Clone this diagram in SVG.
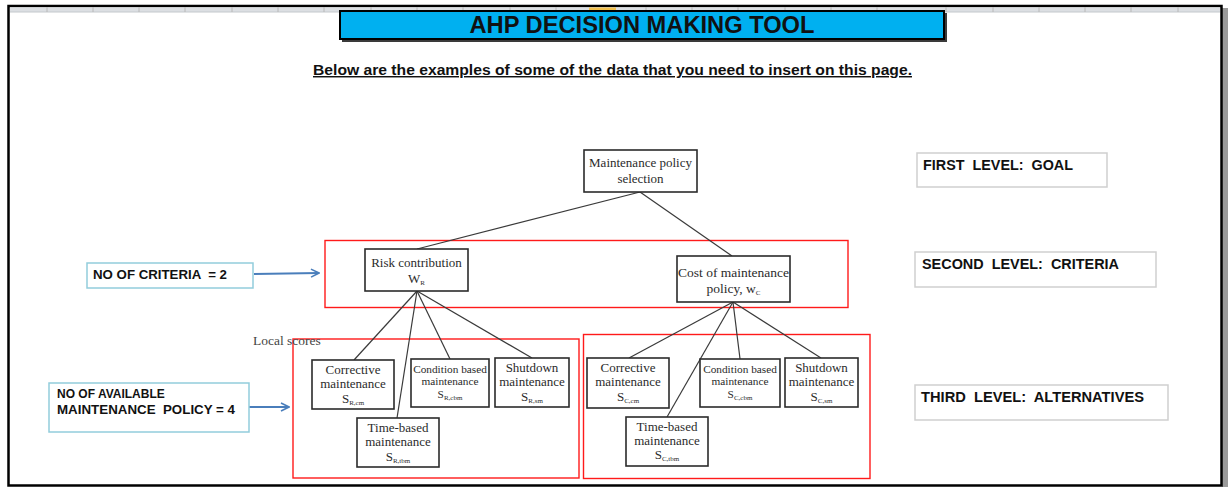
<svg xmlns="http://www.w3.org/2000/svg" width="1228" height="487" viewBox="0 0 1228 487">
  <style>
    .serif { font-family: "Liberation Serif", "Times New Roman", serif; fill: #2b2b2b; text-anchor: middle; }
    .box { fill: #ffffff; stroke: #2b2b2b; stroke-width: 1.6; }
    .group { fill: none; stroke: #ff1a1a; stroke-width: 1.4; }
    .edge { fill: none; stroke: #3a3a3a; stroke-width: 1.2; }
    .note { fill: #ffffff; stroke: #92cddc; stroke-width: 1.5; }
    .level { fill: #ffffff; stroke: #cfcfcf; stroke-width: 1.5; }
    .sans { font-family: "Liberation Sans", Arial, sans-serif; font-weight: bold; fill: #111111; white-space: pre; }
    .pointer { fill: none; stroke: #4a7ebb; stroke-width: 2; marker-end: url(#arrowBlue); }
    .sub { font-size: 7px; }
    .sep { stroke: #b8b8b8; stroke-width: 1; }
  </style>
  <defs>
    <marker id="arrowBlue" viewBox="0 0 10 10" refX="9" refY="5" markerWidth="5" markerHeight="5" orient="auto" markerUnits="strokeWidth">
      <path d="M1,1 L9,5 L1,9" fill="none" stroke="#4a7ebb" stroke-width="1.6"/>
    </marker>
  </defs>

  <!-- sheet background and frame -->
  <rect x="0" y="0" width="1228" height="487" fill="#ffffff"/>
  <rect x="1222" y="8" width="6" height="479" fill="#9a9a9a"/>
  <rect x="8.5" y="6" width="1213" height="479.5" fill="#ffffff" stroke="#000000" stroke-width="2.5"/>

  <!-- column header strip -->
  <g id="header-strip">
    <rect x="10" y="7.5" width="1210" height="4.5" fill="#dcdfe3"/>
    <line x1="10" y1="12" x2="1220" y2="12" stroke="#c4c8cc" stroke-width="1"/>
    <g class="sep">
      <line x1="47" y1="7" x2="47" y2="12"/><line x1="93" y1="7" x2="93" y2="12"/>
      <line x1="139" y1="7" x2="139" y2="12"/><line x1="185" y1="7" x2="185" y2="12"/>
      <line x1="232" y1="7" x2="232" y2="12"/><line x1="278" y1="7" x2="278" y2="12"/>
      <line x1="324" y1="7" x2="324" y2="12"/><line x1="371" y1="7" x2="371" y2="12"/>
      <line x1="417" y1="7" x2="417" y2="12"/><line x1="463" y1="7" x2="463" y2="12"/>
      <line x1="510" y1="7" x2="510" y2="12"/><line x1="556" y1="7" x2="556" y2="12"/>
      <line x1="646" y1="7" x2="646" y2="12"/><line x1="692" y1="7" x2="692" y2="12"/>
      <line x1="738" y1="7" x2="738" y2="12"/><line x1="785" y1="7" x2="785" y2="12"/>
      <line x1="831" y1="7" x2="831" y2="12"/><line x1="877" y1="7" x2="877" y2="12"/>
      <line x1="946" y1="7" x2="946" y2="12"/><line x1="993" y1="7" x2="993" y2="12"/>
      <line x1="1039" y1="7" x2="1039" y2="12"/><line x1="1085" y1="7" x2="1085" y2="12"/>
      <line x1="1131" y1="7" x2="1131" y2="12"/><line x1="1178" y1="7" x2="1178" y2="12"/>
    </g>
    <rect x="589" y="7.5" width="27" height="4.5" fill="#f2c14e"/>
  </g>

  <!-- title banner -->
  <g id="title">
    <rect x="342" y="13" width="605" height="29" fill="#3a3a3a"/>
    <rect x="340" y="11" width="604" height="28" fill="#00b0f0" stroke="#000000" stroke-width="2"/>
    <text x="642" y="33" class="sans" font-size="24" text-anchor="middle" textLength="345" lengthAdjust="spacingAndGlyphs">AHP DECISION MAKING TOOL</text>
  </g>

  <!-- intro line -->
  <g id="intro">
    <text x="612.5" y="75" class="sans" font-size="14.5" text-anchor="middle" textLength="599" lengthAdjust="spacingAndGlyphs" text-decoration="underline">Below are the examples of some of the data that you need to insert on this page.</text>
  </g>

  <!-- grouping frames around criteria and alternatives -->
  <g id="frames">
    <rect class="group" x="325" y="240.5" width="523" height="67"/>
    <rect class="group" x="293" y="339" width="286" height="139"/>
    <rect class="group" x="583.5" y="334.5" width="286.5" height="144"/>
  </g>

  <!-- hierarchy connectors -->
  <g id="connectors">
    <line class="edge" x1="640" y1="192" x2="417" y2="249"/>
    <line class="edge" x1="640" y1="192" x2="732" y2="256"/>
    <line class="edge" x1="417" y1="291" x2="354" y2="360"/>
    <line class="edge" x1="417" y1="291" x2="397" y2="418"/>
    <line class="edge" x1="417" y1="291" x2="450" y2="359"/>
    <line class="edge" x1="417" y1="291" x2="532" y2="358"/>
    <line class="edge" x1="733" y1="302" x2="629" y2="358"/>
    <line class="edge" x1="733" y1="302" x2="667" y2="417"/>
    <line class="edge" x1="733" y1="302" x2="740" y2="359"/>
    <line class="edge" x1="733" y1="302" x2="821" y2="358"/>
    <line class="pointer" x1="254" y1="274" x2="319" y2="273"/>
    <line class="pointer" x1="249" y1="407" x2="289" y2="407"/>
  </g>

  <!-- goal -->
  <g id="goal">
    <rect class="box" x="584" y="150" width="113" height="42"/>
    <text class="serif" x="640.5" y="167" font-size="13">Maintenance policy</text>
    <text class="serif" x="640.5" y="183" font-size="13">selection</text>
  </g>

  <!-- criteria -->
  <g id="risk">
    <rect class="box" x="365" y="249" width="103" height="42"/>
    <text class="serif" x="416.5" y="267" font-size="13">Risk contribution</text>
    <text class="serif" x="416.5" y="283" font-size="13">W<tspan class="sub" dy="2">R</tspan></text>
  </g>
  <g id="cost">
    <rect class="box" x="677" y="256" width="113" height="46"/>
    <text class="serif" x="733.5" y="277" font-size="13.5">Cost of maintenance</text>
    <text class="serif" x="733.5" y="293" font-size="13.5">policy, w<tspan class="sub" dy="2">C</tspan></text>
  </g>

  <text class="serif" x="253" y="345" font-size="13.5" style="text-anchor: start; fill: #444444">Local scores</text>

  <!-- alternatives under risk -->
  <g id="risk-corrective">
    <rect class="box" x="312" y="360" width="82" height="49"/>
    <text class="serif" x="353" y="374" font-size="13">Corrective</text>
    <text class="serif" x="353" y="388" font-size="13">maintenance</text>
    <text class="serif" x="353" y="403" font-size="13">S<tspan class="sub" dy="2">R,cm</tspan></text>
  </g>
  <g id="risk-condition">
    <rect class="box" x="411" y="359" width="78" height="48"/>
    <text class="serif" x="450" y="373" font-size="11.3">Condition based</text>
    <text class="serif" x="450" y="385" font-size="11.3">maintenance</text>
    <text class="serif" x="450" y="398" font-size="11.3">S<tspan class="sub" dy="2">R,cbm</tspan></text>
  </g>
  <g id="risk-shutdown">
    <rect class="box" x="495" y="358" width="74" height="49"/>
    <text class="serif" x="532" y="372" font-size="13">Shutdown</text>
    <text class="serif" x="532" y="386" font-size="13">maintenance</text>
    <text class="serif" x="532" y="401" font-size="13">S<tspan class="sub" dy="2">R,sm</tspan></text>
  </g>
  <g id="risk-timebased">
    <rect class="box" x="357" y="418" width="82" height="49"/>
    <text class="serif" x="398" y="432" font-size="13">Time-based</text>
    <text class="serif" x="398" y="446" font-size="13">maintenance</text>
    <text class="serif" x="398" y="461" font-size="13">S<tspan class="sub" dy="2">R,tbm</tspan></text>
  </g>

  <!-- alternatives under cost -->
  <g id="cost-corrective">
    <rect class="box" x="587" y="358" width="82" height="50"/>
    <text class="serif" x="628" y="372" font-size="13">Corrective</text>
    <text class="serif" x="628" y="386" font-size="13">maintenance</text>
    <text class="serif" x="628" y="401" font-size="13">S<tspan class="sub" dy="2">C,cm</tspan></text>
  </g>
  <g id="cost-condition">
    <rect class="box" x="700" y="359" width="80" height="48"/>
    <text class="serif" x="740" y="373" font-size="11.3">Condition based</text>
    <text class="serif" x="740" y="385" font-size="11.3">maintenance</text>
    <text class="serif" x="740" y="398" font-size="11.3">S<tspan class="sub" dy="2">C,cbm</tspan></text>
  </g>
  <g id="cost-shutdown">
    <rect class="box" x="785" y="358" width="73" height="49"/>
    <text class="serif" x="821.5" y="372" font-size="13">Shutdown</text>
    <text class="serif" x="821.5" y="386" font-size="13">maintenance</text>
    <text class="serif" x="821.5" y="401" font-size="13">S<tspan class="sub" dy="2">C,sm</tspan></text>
  </g>
  <g id="cost-timebased">
    <rect class="box" x="626" y="417" width="82" height="49"/>
    <text class="serif" x="667" y="431" font-size="13">Time-based</text>
    <text class="serif" x="667" y="445" font-size="13">maintenance</text>
    <text class="serif" x="667" y="459" font-size="13">S<tspan class="sub" dy="2">C,tbm</tspan></text>
  </g>

  <!-- input notes -->
  <g id="note-criteria">
    <rect class="note" x="87" y="263" width="166" height="25"/>
    <text class="sans" x="93" y="279" font-size="12" textLength="134" lengthAdjust="spacingAndGlyphs">NO OF CRITERIA  = 2</text>
  </g>
  <g id="note-policies">
    <rect class="note" x="49" y="383" width="200" height="49"/>
    <text class="sans" x="57" y="398" font-size="12">NO OF AVAILABLE</text>
    <text class="sans" x="57" y="414" font-size="12" textLength="178" lengthAdjust="spacingAndGlyphs">MAINTENANCE  POLICY = 4</text>
  </g>

  <!-- level captions -->
  <g id="level-goal">
    <rect class="level" x="917" y="153" width="190" height="34"/>
    <text class="sans" x="923" y="170" font-size="14" textLength="150" lengthAdjust="spacingAndGlyphs">FIRST  LEVEL:  GOAL</text>
  </g>
  <g id="level-criteria">
    <rect class="level" x="915" y="252" width="241" height="35"/>
    <text class="sans" x="922" y="269" font-size="14" textLength="197" lengthAdjust="spacingAndGlyphs">SECOND  LEVEL:  CRITERIA</text>
  </g>
  <g id="level-alternatives">
    <rect class="level" x="915" y="385" width="253" height="35"/>
    <text class="sans" x="921" y="402" font-size="14" textLength="223" lengthAdjust="spacingAndGlyphs">THIRD  LEVEL:  ALTERNATIVES</text>
  </g>
</svg>
